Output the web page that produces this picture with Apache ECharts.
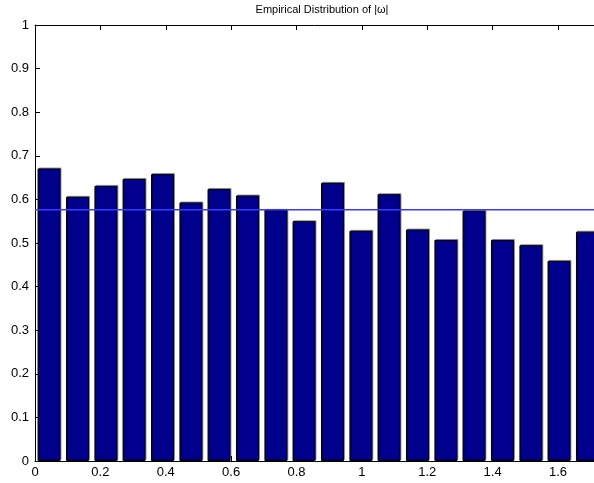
<!DOCTYPE html>
<html>
<head>
<meta charset="utf-8">
<script src="https://cdn.jsdelivr.net/npm/echarts@6/dist/echarts.min.js"></script>
<style>
  html, body { margin: 0; padding: 0; background: #fff; }
  #chart { width: 594px; height: 483px; }
</style>
</head>
<body>
<div id="chart"></div>
<script>
// 柱子中心位置
const binCenters = [0.043, 0.130, 0.217, 0.303, 0.390, 0.477, 0.563, 0.650, 0.737, 0.823,
                    0.910, 0.997, 1.083, 1.170, 1.257, 1.343, 1.430, 1.517, 1.603, 1.690];
// 每个柱子的高度
const binValues = [0.671, 0.606, 0.631, 0.647, 0.658, 0.593, 0.624, 0.609, 0.576, 0.550,
                   0.638, 0.528, 0.612, 0.531, 0.507, 0.574, 0.507, 0.495, 0.459, 0.526];
// 水平参考线
const refLevel = 0.576;
const xTicks = [0, 0.2, 0.4, 0.6, 0.8, 1, 1.2, 1.4, 1.6];
const yTicks = [0, 0.1, 0.2, 0.3, 0.4, 0.5, 0.6, 0.7, 0.8, 0.9, 1];

const chart = echarts.init(document.getElementById('chart'), null, { renderer: 'canvas' });

const fontFamily = 'Liberation Sans, Arial, sans-serif';
const axisColor = '#000';

chart.setOption({
  animation: false,
  title: {
    text: 'Empirical Distribution of |ω|',
    left: 317,
    top: -1,
    textAlign: 'center',
    textStyle: { fontSize: 11, fontWeight: 'normal', color: '#000', fontFamily: fontFamily }
  },
  grid: { left: 35, right: 0, top: 25, bottom: 22, containLabel: false },
  xAxis: [
    {
      type: 'value', min: 0, max: 1.71, interval: 0.2, position: 'bottom',
      axisLine: { onZero: false, lineStyle: { color: axisColor, width: 1 } },
      axisTick: { inside: true, length: 5, lineStyle: { color: axisColor } },
      axisLabel: {
        color: '#000', fontSize: 13, fontFamily: fontFamily, margin: 5,
        showMaxLabel: false,
        formatter: v => (xTicks.some(t => Math.abs(t - v) < 1e-6) ? String(+v.toFixed(1)) : '')
      },
      splitLine: { show: false }
    },
    {
      type: 'value', min: 0, max: 1.71, interval: 0.2, position: 'top',
      axisLine: { onZero: false, lineStyle: { color: axisColor, width: 1 } },
      axisTick: { inside: true, length: 5, lineStyle: { color: axisColor } },
      axisLabel: { show: false },
      splitLine: { show: false }
    }
  ],
  yAxis: {
    type: 'value', min: 0, max: 1, interval: 0.1,
    axisLine: { show: true, onZero: false, lineStyle: { color: axisColor, width: 1 } },
    axisTick: { show: true, inside: true, length: 5, lineStyle: { color: axisColor } },
    axisLabel: {
      color: '#000', fontSize: 13, fontFamily: fontFamily, margin: 6,
      formatter: v => String(+v.toFixed(1))
    },
    splitLine: { show: false }
  },
  series: [
    {
      type: 'bar',
      xAxisIndex: 0,
      barWidth: 23,
      data: binCenters.map((c, i) => [c, binValues[i]]),
      itemStyle: {
        color: '#00008C',
        borderColor: '#000',
        borderWidth: 1,
        shadowColor: 'rgba(0,0,0,0.35)',
        shadowOffsetX: 1,
        shadowOffsetY: -1
      },
      z: 2
    },
    {
      type: 'line',
      xAxisIndex: 0,
      data: [[0, refLevel], [1.71, refLevel]],
      symbol: 'none',
      lineStyle: { color: '#3a3aff', width: 1.5 },
      z: 3
    }
  ]
});
</script>
</body>
</html>
